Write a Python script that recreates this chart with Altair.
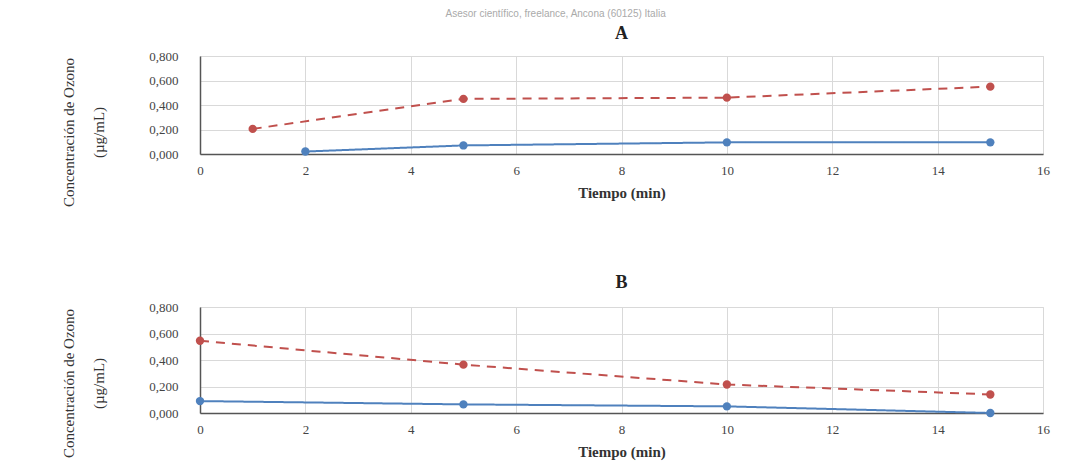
import altair as alt
import pandas as pd

# Panel A
a_red_t = [1, 5, 10, 15]
a_red_v = [0.205, 0.450, 0.460, 0.550]
a_blue_t = [2, 5, 10, 15]
a_blue_v = [0.020, 0.070, 0.095, 0.095]
# Panel B
b_red_t = [0, 5, 10, 15]
b_red_v = [0.545, 0.365, 0.215, 0.140]
b_blue_t = [0, 5, 10, 15]
b_blue_v = [0.090, 0.065, 0.050, 0.000]

x_ticks = [0, 2, 4, 6, 8, 10, 12, 14, 16]
y_ticks = [0.0, 0.2, 0.4, 0.6, 0.8]

RED = "#c0504d"
BLUE = "#4f81bd"
FONT = "Liberation Serif"


def frame(rt, rv, bt, bv):
    rows = [{"t": t, "v": v, "s": "rojo"} for t, v in zip(rt, rv)]
    rows += [{"t": t, "v": v, "s": "azul"} for t, v in zip(bt, bv)]
    return pd.DataFrame(rows)


def panel(df, title, h, toff):
    x = alt.X("t:Q", scale=alt.Scale(domain=[0, 16], nice=False),
              axis=alt.Axis(values=x_ticks, title="Tiempo (min)", tickSize=0,
                            labelPadding=10, titlePadding=8,
                            labelFont=FONT, labelFontSize=13, labelColor="#444",
                            titleFont=FONT, titleFontSize=15, titleFontWeight="bold",
                            titleColor="#333", domainColor="#555", domainWidth=1.5,
                            gridColor="#d9d9d9", labelFlush=False))
    y = alt.Y("v:Q", scale=alt.Scale(domain=[0, 0.8], nice=False),
              axis=alt.Axis(values=y_ticks, title=["Concentración de Ozono", "(µg/mL)"],
                            labelExpr="replace(format(datum.value, '.3f'), '.', ',')",
                            tickSize=0, labelPadding=22, titlePadding=42,
                            titleLineHeight=30, titleY=76,
                            labelFont=FONT, labelFontSize=13, labelColor="#444",
                            titleFont=FONT, titleFontSize=15, titleFontWeight="normal",
                            titleColor="#333", domainColor="#555", domainWidth=1.5,
                            gridColor="#d9d9d9"))
    color = alt.Color("s:N", scale=alt.Scale(domain=["rojo", "azul"], range=[RED, BLUE]),
                      legend=None)
    dash = alt.StrokeDash("s:N", scale=alt.Scale(domain=["rojo", "azul"],
                                                   range=[[9, 7], [1, 0]]), legend=None)
    base = alt.Chart(df)
    lines = base.mark_line(strokeWidth=2).encode(x=x, y=y, color=color, strokeDash=dash,
                                                   detail="s:N")
    pts = base.mark_circle(size=70, opacity=1).encode(x=x, y=y, color=color)
    return alt.layer(lines, pts).properties(
        width=843, height=h,
        title=alt.TitleParams(title, font=FONT, fontSize=18, fontWeight="bold",
                              color="#222", offset=toff))


pa = panel(frame(a_red_t, a_red_v, a_blue_t, a_blue_v), "A", 98, 7)
pb = panel(frame(b_red_t, b_red_v, b_blue_t, b_blue_v), "B", 106, 9)

chart = alt.vconcat(pa, pb, spacing=65).properties(
    padding={"left": 53, "top": 0, "right": 10, "bottom": 5},
    title=alt.TitleParams("Asesor científico, freelance, Ancona (60125) Italia",
                          font="Liberation Sans", fontSize=10, color="#aaa",
                          fontWeight="normal", anchor="middle", offset=6),
).configure_view(stroke=None).configure(background="white")

chart.save("out.html", embed_options={"renderer": "svg", "actions": False})
